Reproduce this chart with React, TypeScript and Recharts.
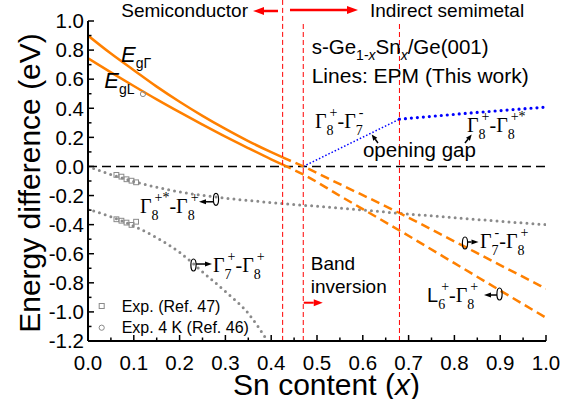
import React from 'react';
import { ComposedChart, Line, Scatter, XAxis, YAxis, ReferenceLine, ReferenceDot, Label } from 'recharts';

const SANS = '"Liberation Sans", Arial, sans-serif';
const SERIF = '"Liberation Serif", "Times New Roman", serif';

// ---- data ----
const xSolid = [0, 0.05, 0.1, 0.15, 0.2, 0.25, 0.3, 0.35, 0.4, 0.425];
const egGammaSolid = [0.9, 0.776, 0.662, 0.549, 0.445, 0.348, 0.258, 0.174, 0.098, 0.062];
const egLSolid = [0.744, 0.647, 0.553, 0.461, 0.373, 0.288, 0.205, 0.126, 0.049, 0.012];
const xDashed = [0.425, 0.47, 0.55, 0.68, 0.8, 0.9, 1.0];
const g7mG8pDashed = [0.062, 0.0, -0.122, -0.32, -0.515, -0.678, -0.84];
const l6pG8pDashed = [0.012, -0.055, -0.202, -0.44, -0.665, -0.853, -1.04];
const xOpenGap = [0.47, 0.68];
const g8pG7mOpen = [0.0, 0.325];
const xG8G8s = [0.68, 0.8, 0.9, 1.0];
const g8pG8sVals = [0.325, 0.358, 0.384, 0.408];
const xG8sG8 = [0, 0.05, 0.1, 0.15, 0.2, 0.3, 0.4, 0.5, 0.6, 0.7, 0.8, 0.9, 1.0];
const g8sG8pVals = [0, -0.055, -0.103, -0.143, -0.175, -0.218, -0.248, -0.274, -0.3, -0.327, -0.352, -0.377, -0.4];
const xG7G8 = [0, 0.05, 0.1, 0.15, 0.2, 0.25, 0.3, 0.35, 0.39];
const g7pG8pVals = [-0.295, -0.345, -0.41, -0.49, -0.59, -0.725, -0.86, -1.01, -1.19];
const xZero = [0, 1];
const yZero = [0, 0];
const expX = [0.062, 0.073, 0.084, 0.095, 0.105];
const expUpperY = [-0.058, -0.07, -0.088, -0.098, -0.109];
const expLowerY = [-0.363, -0.373, -0.386, -0.402, -0.38];
const exp4KX = [0.12];
const exp4KY = [0.498];
const inversionLines = [0.47, 0.68];
const semiLine = 0.425;

const xMajor = [0, 0.1, 0.2, 0.3, 0.4, 0.5, 0.6, 0.7, 0.8, 0.9, 1.0];
const xMinor = [0.05, 0.15, 0.25, 0.35, 0.45, 0.55, 0.65, 0.75, 0.85, 0.95];
const yMajor = [-1.2, -1.0, -0.8, -0.6, -0.4, -0.2, 0, 0.2, 0.4, 0.6, 0.8, 1.0];
const yMinor = [-1.1, -0.9, -0.7, -0.5, -0.3, -0.1, 0.1, 0.3, 0.5, 0.7, 0.9];

const pts = (xs: number[], ys: number[]) => xs.map((x, i) => ({ x, y: ys[i] }));
const xTicks = [...xMajor, ...xMinor].sort((a, b) => a - b);
const yTicks = [...yMajor, ...yMinor].sort((a, b) => a - b);
const isMaj = (list: number[], v: number) => list.some((m) => Math.abs(m - v) < 1e-9);
const fmt = (v: number) => (Math.abs(v) < 1e-9 ? '0.0' : v.toFixed(1));

const ORANGE = '#FF8000';
const GRAY = '#8a8a8a';
const BLUE = '#0000FF';
const RED = '#FF0000';

// ---- ticks ----
const XTickBottom = (p: any) => {
  const { x, y, payload } = p;
  const major = isMaj(xMajor, payload.value);
  return (
    <g>
      <line x1={x} y1={y} x2={x} y2={y - (major ? 6 : 3.5)} stroke="#000" strokeWidth={1.5} />
      {major && (
        <text x={x} y={y + 29} textAnchor="middle" fontFamily={SANS} fontSize={20.5} fill="#000">
          {fmt(payload.value)}
        </text>
      )}
    </g>
  );
};
const XTickTop = (p: any) => {
  const { x, y, payload } = p;
  const major = isMaj(xMajor, payload.value);
  return <line x1={x} y1={y} x2={x} y2={y + (major ? 6 : 3.5)} stroke="#000" strokeWidth={1.5} />;
};
const YTickLeft = (p: any) => {
  const { x, y, payload } = p;
  const major = isMaj(yMajor, payload.value);
  return (
    <g>
      <line x1={x} y1={y} x2={x + (major ? 6 : 3.5)} y2={y} stroke="#000" strokeWidth={1.5} />
      {major && (
        <text x={x - 4} y={y + 7.3} textAnchor="end" fontFamily={SANS} fontSize={20.5} fill="#000">
          {fmt(payload.value)}
        </text>
      )}
    </g>
  );
};
const YTickRight = (p: any) => {
  const { x, y, payload } = p;
  const major = isMaj(yMajor, payload.value);
  return <line x1={x} y1={y} x2={x - (major ? 6 : 3.5)} y2={y} stroke="#000" strokeWidth={1.5} />;
};

// ---- titles ----
const YTitle = (p: any) => {
  const vb = p.viewBox || { x: 0, y: 21, width: 88, height: 320 };
  const cx = vb.x + 40;
  const cy = vb.y + vb.height / 2 + 2;
  return (
    <text transform={`rotate(-90 ${cx} ${cy})`} x={cx} y={cy} textAnchor="middle" fontFamily={SANS} fontSize={30} fill="#000">
      Energy difference (eV)
    </text>
  );
};
const XTitle = (p: any) => {
  const vb = p.viewBox || { x: 88, y: 341, width: 458, height: 58 };
  return (
    <text x={vb.x + vb.width / 2 + 9.5} y={vb.y + 53.5} textAnchor="middle" fontFamily={SANS} fontSize={30} fill="#000">
      Sn content (<tspan fontStyle="italic">x</tspan>)
    </text>
  );
};

// ---- annotation helpers ----
const Arrow = ({ x1, y1, x2, y2, color = '#000', w = 1.5, hl = 7, hw = 5 }: any) => {
  const a = Math.atan2(y2 - y1, x2 - x1);
  const bx = x2 - hl * Math.cos(a);
  const by = y2 - hl * Math.sin(a);
  const px = (-Math.sin(a) * hw) / 2;
  const py = (Math.cos(a) * hw) / 2;
  return (
    <g>
      <line x1={x1} y1={y1} x2={bx} y2={by} stroke={color} strokeWidth={w} />
      <polygon points={`${x2},${y2} ${bx + px},${by + py} ${bx - px},${by - py}`} fill={color} />
    </g>
  );
};
const Oval = ({ cx, cy }: any) => <ellipse cx={cx} cy={cy} rx={2.6} ry={6} fill="none" stroke="#000" strokeWidth={1.2} />;

type Part = { b: string; sub?: string; sup?: string; sans?: boolean };
const supW: Record<string, number> = { '+': 7.9, '-': 4.7, '*': 7.0 };
const Term = ({ x, y, parts }: { x: number; y: number; parts: Part[] }) => {
  const kids: any[] = [];
  let pdy = 0;
  let pdx = 0;
  parts.forEach((p, i) => {
    kids.push(
      <tspan key={`b${i}`} dx={pdx || undefined} dy={pdy || undefined} fontFamily={p.sans ? SANS : SERIF} fontSize={20}>
        {p.b}
      </tspan>
    );
    pdy = 0;
    pdx = 0;
    if (p.sub) {
      const sw = 7 * p.sub.length;
      kids.push(
        <tspan key={`s${i}`} dy={7} fontSize={14} fontFamily={SERIF}>
          {p.sub}
        </tspan>
      );
      const uw = (p.sup || '').split('').reduce((s, c) => s + (supW[c] || 7), 0);
      kids.push(
        <tspan key={`u${i}`} dx={-sw + 3} dy={-18} fontSize={14} fontFamily={SERIF}>
          {p.sup}
        </tspan>
      );
      pdy = 11;
      pdx = Math.max(0, sw - (uw + 3));
    }
  });
  return (
    <text x={x} y={y} fill="#000">
      {kids}
    </text>
  );
};

const termG8sG8: Part[] = [{ b: 'Γ', sub: '8', sup: '+*' }, { b: '-' }, { b: 'Γ', sub: '8', sup: '+' }];
const termG7pG8p: Part[] = [{ b: 'Γ', sub: '7', sup: '+' }, { b: '-' }, { b: 'Γ', sub: '8', sup: '+' }];
const termG8pG7m: Part[] = [{ b: 'Γ', sub: '8', sup: '+' }, { b: '-' }, { b: 'Γ', sub: '7', sup: '-' }];
const termG8pG8s: Part[] = [{ b: 'Γ', sub: '8', sup: '+' }, { b: '-' }, { b: 'Γ', sub: '8', sup: '+*' }];
const termG7mG8p: Part[] = [{ b: 'Γ', sub: '7', sup: '-' }, { b: '-' }, { b: 'Γ', sub: '8', sup: '+' }];
const termL6G8: Part[] = [{ b: 'L', sans: true, sub: '6', sup: '+' }, { b: '-' }, { b: 'Γ', sub: '8', sup: '+' }];

const notes: { x: number; y: number; draw: (cx: number, cy: number) => any }[] = [
  {
    x: 0.3493, y: 1.0296,
    draw: (cx, cy) => (
      <text x={cx} y={cy} textAnchor="end" fontFamily={SANS} fontSize={19} fill="#000">Semiconductor</text>
    ),
  },
  { x: 0.3603, y: 1.0688, draw: (cx, cy) => <Arrow x1={cx + 25} y1={cy} x2={cx} y2={cy} color={RED} w={2.5} hl={11} hw={8} /> },
  { x: 0.5895, y: 1.0756, draw: (cx, cy) => <Arrow x1={cx - 68} y1={cy} x2={cx} y2={cy} color={RED} w={2.5} hl={11} hw={8} /> },
  {
    x: 0.6157, y: 1.0296,
    draw: (cx, cy) => (
      <text x={cx} y={cy} fontFamily={SANS} fontSize={19} fill="#000">Indirect semimetal</text>
    ),
  },
  {
    x: 0.4884, y: 0.77,
    draw: (cx, cy) => (
      <text x={cx} y={cy} fontFamily={SANS} fontSize={20.5} fill="#000">
        s-Ge
        <tspan dy={6} fontSize={14}>1-</tspan>
        <tspan fontSize={14} fontStyle="italic">x</tspan>
        <tspan dy={-6}>Sn</tspan>
        <tspan dy={6} fontSize={14} fontStyle="italic">x</tspan>
        <tspan dy={-6}>/Ge(001)</tspan>
      </text>
    ),
  },
  {
    x: 0.4884, y: 0.574,
    draw: (cx, cy) => (
      <text x={cx} y={cy} fontFamily={SANS} fontSize={21} fill="#000">Lines: EPM (This work)</text>
    ),
  },
  {
    x: 0.0721, y: 0.72,
    draw: (cx, cy) => (
      <text x={cx} y={cy} fontFamily={SANS} fontSize={22} fill="#000">
        <tspan fontStyle="italic">E</tspan>
        <tspan dy={6} fontSize={14}>gΓ</tspan>
      </text>
    ),
  },
  {
    x: 0.0356, y: 0.537,
    draw: (cx, cy) => (
      <text x={cx} y={cy} fontFamily={SANS} fontSize={22} fill="#000">
        <tspan fontStyle="italic">E</tspan>
        <tspan dy={6} fontSize={14}>gL</tspan>
      </text>
    ),
  },
  {
    x: 0.1135, y: -0.322,
    draw: (cx, cy) => (
      <g>
        <Term x={cx} y={cy} parts={termG8sG8} />
        <Arrow x1={cx + 74} y1={cy - 11.5} x2={cx + 59} y2={cy - 11.5} />
        <Oval cx={cx + 76} cy={cy - 14} />
      </g>
    ),
  },
  {
    x: 0.2729, y: -0.7257,
    draw: (cx, cy) => (
      <g>
        <Oval cx={cx - 19.5} cy={cy - 7} />
        <Arrow x1={cx - 17} y1={cy - 8} x2={cx - 1} y2={cy - 8} />
        <Term x={cx} y={cy} parts={termG7pG8p} />
      </g>
    ),
  },
  { x: 0.4956, y: 0.2643, draw: (cx, cy) => <Term x={cx} y={cy} parts={termG8pG7m} /> },
  { x: 0.8275, y: 0.239, draw: (cx, cy) => <Term x={cx} y={cy} parts={termG8pG8s} /> },
  {
    x: 0.6004, y: 0.065,
    draw: (cx, cy) => (
      <g>
        <text x={cx} y={cy} fontFamily={SANS} fontSize={20.5} fill="#000">opening gap</text>
        <Arrow x1={cx + 15} y1={cy - 14} x2={cx + 8.7} y2={cy - 22.5} hl={6} hw={5} />
        <Arrow x1={cx + 102} y1={cy - 14} x2={cx + 108.7} y2={cy - 22.5} hl={6} hw={5} />
      </g>
    ),
  },
  {
    x: 0.8559, y: -0.5607,
    draw: (cx, cy) => (
      <g>
        <Oval cx={cx - 15} cy={cy - 5} />
        <Arrow x1={cx - 13} y1={cy - 6} x2={cx - 1.5} y2={cy - 6} />
        <Term x={cx} y={cy} parts={termG7mG8p} />
      </g>
    ),
  },
  {
    x: 0.7402, y: -0.932,
    draw: (cx, cy) => (
      <g>
        <Term x={cx} y={cy} parts={termL6G8} />
        <Arrow x1={cx + 70} y1={cy - 7} x2={cx + 57} y2={cy - 7} />
        <Oval cx={cx + 72.5} cy={cy - 8} />
      </g>
    ),
  },
  {
    x: 0.4863, y: -0.712,
    draw: (cx, cy) => (
      <g>
        <text x={cx} y={cy} fontFamily={SANS} fontSize={19} fill="#000">Band</text>
        <text x={cx} y={cy + 22.7} fontFamily={SANS} fontSize={19} fill="#000">inversion</text>
        <Arrow x1={cx - 7} y1={cy + 32.7} x2={cx + 12} y2={cy + 32.7} color={RED} w={2} hl={9} hw={7} />
      </g>
    ),
  },
  {
    x: 0.0299, y: -0.9594,
    draw: (cx, cy) => (
      <g>
        <rect x={cx - 2.5} y={cy - 2.5} width={5} height={5} fill="none" stroke={GRAY} strokeWidth={1} />
        <text x={cx + 20} y={cy + 5.7} fontFamily={SANS} fontSize={16} fill="#000">Exp. (Ref. 47)</text>
        <circle cx={cx} cy={cy + 21.7} r={2.6} fill="none" stroke={GRAY} strokeWidth={1} />
        <text x={cx + 20} y={cy + 27.4} fontFamily={SANS} fontSize={16} fill="#000">Exp. 4 K (Ref. 46)</text>
      </g>
    ),
  },
];

const SquareShape = (p: any) => (
  <rect x={p.cx - 2.4} y={p.cy - 2.4} width={4.8} height={4.8} fill="none" stroke={GRAY} strokeWidth={1} />
);
const CircleShape = (p: any) => <circle cx={p.cx} cy={p.cy} r={2.6} fill="none" stroke={GRAY} strokeWidth={1} />;

export default function App() {
  return (
    <div style={{ position: 'absolute', left: 0, top: 0, width: 577, height: 399, background: '#fff' }}>
      <ComposedChart width={577} height={399} margin={{ top: 21, right: 31, bottom: 0, left: 0 }}>
        <XAxis
          xAxisId={0}
          dataKey="x"
          type="number"
          domain={[0, 1]}
          allowDataOverflow
          ticks={xTicks}
          interval={0}
          tickSize={0}
          tickMargin={0}
          tickLine={false}
          height={58}
          axisLine={{ stroke: '#000', strokeWidth: 2 }}
          tick={XTickBottom}
          label={<Label content={XTitle} />}
        />
        <XAxis
          xAxisId="top"
          orientation="top"
          dataKey="x"
          type="number"
          domain={[0, 1]}
          allowDataOverflow
          ticks={xTicks}
          interval={0}
          tickSize={0}
          tickMargin={0}
          tickLine={false}
          height={0}
          axisLine={{ stroke: '#000', strokeWidth: 2 }}
          tick={XTickTop}
        />
        <YAxis
          yAxisId={0}
          dataKey="y"
          type="number"
          domain={[-1.2, 1]}
          allowDataOverflow
          ticks={yTicks}
          interval={0}
          tickSize={0}
          tickMargin={0}
          tickLine={false}
          width={88}
          axisLine={{ stroke: '#000', strokeWidth: 2 }}
          tick={YTickLeft}
          label={<Label content={YTitle} />}
        />
        <YAxis
          yAxisId="right"
          orientation="right"
          dataKey="y"
          type="number"
          domain={[-1.2, 1]}
          allowDataOverflow
          ticks={yTicks}
          interval={0}
          tickSize={0}
          tickMargin={0}
          tickLine={false}
          width={0}
          axisLine={{ stroke: '#000', strokeWidth: 2 }}
          tick={YTickRight}
        />

        <Line xAxisId="top" yAxisId="right" data={pts(xZero, yZero)} dataKey="y" type="linear" stroke="#000" strokeWidth={1.5} strokeDasharray="9 5" dot={false} activeDot={false} isAnimationActive={false} />

        <Line data={pts(xG8sG8, g8sG8pVals)} dataKey="y" type="monotone" stroke={GRAY} strokeWidth={3} strokeDasharray="0 6" strokeLinecap="round" dot={false} activeDot={false} isAnimationActive={false} />
        <Line data={pts(xG7G8, g7pG8pVals)} dataKey="y" type="monotone" stroke={GRAY} strokeWidth={3} strokeDasharray="0 6" strokeLinecap="round" dot={false} activeDot={false} isAnimationActive={false} />

        <Line data={pts(xOpenGap, g8pG7mOpen)} dataKey="y" type="linear" stroke={BLUE} strokeWidth={1.5} strokeDasharray="1.5 2" dot={false} activeDot={false} isAnimationActive={false} />
        <Line data={pts(xG8G8s, g8pG8sVals)} dataKey="y" type="monotone" stroke={BLUE} strokeWidth={3.2} strokeDasharray="0 6" strokeLinecap="round" dot={false} activeDot={false} isAnimationActive={false} />

        <Line data={pts(xSolid, egGammaSolid)} dataKey="y" type="monotone" stroke={ORANGE} strokeWidth={2.5} dot={false} activeDot={false} isAnimationActive={false} />
        <Line data={pts(xSolid, egLSolid)} dataKey="y" type="monotone" stroke={ORANGE} strokeWidth={2.5} dot={false} activeDot={false} isAnimationActive={false} />
        <Line data={pts(xDashed, g7mG8pDashed)} dataKey="y" type="monotone" stroke={ORANGE} strokeWidth={2.5} strokeDasharray="9 5" dot={false} activeDot={false} isAnimationActive={false} />
        <Line data={pts(xDashed, l6pG8pDashed)} dataKey="y" type="monotone" stroke={ORANGE} strokeWidth={2.5} strokeDasharray="9 5" dot={false} activeDot={false} isAnimationActive={false} />

        <Scatter data={pts(expX, expUpperY)} shape={SquareShape} isAnimationActive={false} />
        <Scatter data={pts(expX, expLowerY)} shape={SquareShape} isAnimationActive={false} />
        <Scatter data={pts(exp4KX, exp4KY)} shape={CircleShape} isAnimationActive={false} />

        <ReferenceLine
          segment={[{ x: semiLine, y: 1.145 }, { x: semiLine, y: -1.2 }]}
          ifOverflow="visible"
          stroke={RED}
          strokeWidth={1}
          strokeDasharray="5 3"
        />
        {inversionLines.map((v) => (
          <ReferenceLine key={v} x={v} stroke={RED} strokeWidth={1} strokeDasharray="5 3" />
        ))}

        {notes.map((n, i) => (
          <ReferenceDot
            key={`n${i}`}
            x={n.x}
            y={n.y}
            r={0}
            ifOverflow="visible"
            fill="none"
            stroke="none"
            shape={(p: any) => n.draw(p.cx, p.cy)}
          />
        ))}
      </ComposedChart>
    </div>
  );
}
